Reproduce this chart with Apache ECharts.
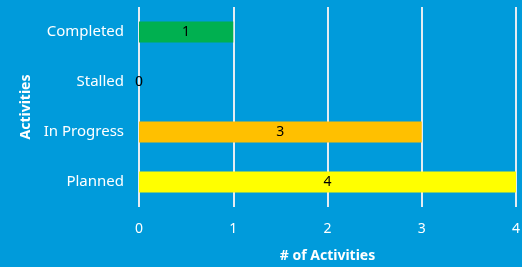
<!DOCTYPE html>
<html>
<head>
<meta charset="utf-8">
<script src="https://cdn.jsdelivr.net/npm/echarts@6/dist/echarts.min.js"></script>
<style>
  html, body { margin: 0; padding: 0; background: #009bdb; }
  #chart { width: 522px; height: 267px; }
</style>
</head>
<body>
<div id="chart"></div>
<script>
// data
var categories = ["Completed", "Stalled", "In Progress", "Planned"];
var counts = [1, 0, 3, 4];
var barColors = ["#00b050", "#00b050", "#ffc000", "#ffff00"];
var xTicks = [0, 1, 2, 3, 4];

var myChart = echarts.init(document.getElementById("chart"));
myChart.setOption({
  backgroundColor: "#009bdb",
  textStyle: { fontFamily: "Noto Sans" },
  grid: { left: 139, right: 6, top: 7, bottom: 60, containLabel: false, outerBoundsMode: "none" },
  xAxis: {
    type: "value",
    min: xTicks[0],
    max: xTicks[xTicks.length - 1],
    interval: 1,
    name: "# of Activities",
    nameLocation: "middle",
    nameGap: 42,
    nameTextStyle: { color: "#fff", fontWeight: "bold", fontSize: 14 },
    axisLine: { show: false },
    axisTick: { show: false },
    axisLabel: { color: "#fff", fontSize: 14, margin: 15 },
    splitLine: { lineStyle: { color: "#e4ecf2", width: 2 } }
  },
  yAxis: {
    type: "category",
    inverse: true,
    data: categories,
    name: "Activities",
    nameLocation: "middle",
    nameGap: 101,
    nameRotate: 90,
    nameTextStyle: { color: "#fff", fontWeight: "bold", fontSize: 14 },
    axisLine: { show: false },
    axisTick: { show: false },
    axisLabel: { color: "#fff", fontSize: 15, margin: 15 }
  },
  series: [
    {
      type: "bar",
      barWidth: 21,
      data: counts.map(function (v, i) {
        return { value: v, itemStyle: { color: barColors[i] } };
      }),
      label: {
        show: true,
        position: "inside",
        color: "#000",
        fontSize: 14
      }
    }
  ]
});
</script>
</body>
</html>
